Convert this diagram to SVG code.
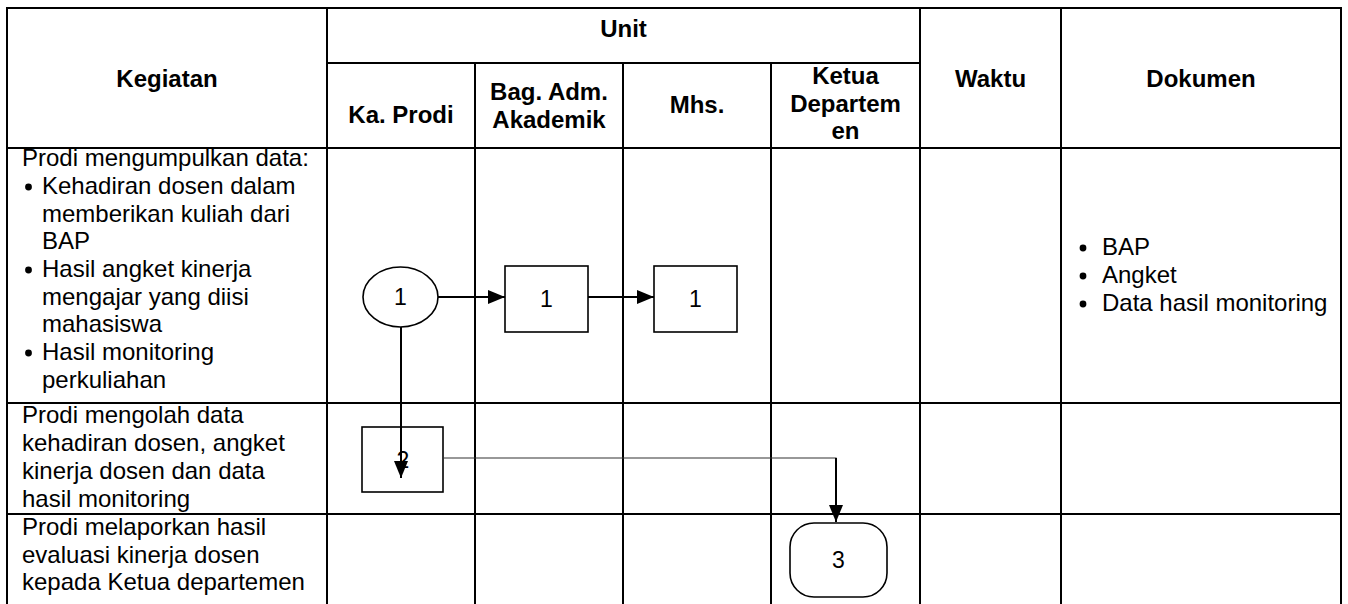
<svg xmlns="http://www.w3.org/2000/svg" width="1348" height="604" viewBox="0 0 1348 604">
<style>
text{font-family:"Liberation Sans",Arial,sans-serif;fill:#000}
.h{font-size:24px;font-weight:bold;text-anchor:middle}
.b{font-size:24px}
.n{font-size:23px;text-anchor:middle}
.grid line{stroke:#000;stroke-width:2}
.shape{fill:#fff;stroke:#000;stroke-width:1.6}
.c{fill:none;stroke:#000;stroke-width:2}
.thin{fill:none;stroke:#333;stroke-width:1.2}
.dot{fill:#000}
</style>
<defs>
<marker id="ah" viewBox="0 0 17 14" refX="17" refY="7" markerWidth="17" markerHeight="14" markerUnits="userSpaceOnUse" orient="auto">
<path d="M0,0 L17,7 L0,14 Z" fill="#000"/>
</marker>
</defs>
<rect width="1348" height="604" fill="#fff"/>
<g id="table" class="grid">
<line x1="6" y1="8" x2="1342" y2="8"/>
<line x1="327" y1="63" x2="920" y2="63"/>
<line x1="6" y1="148" x2="1342" y2="148"/>
<line x1="6" y1="403" x2="1342" y2="403"/>
<line x1="6" y1="514" x2="1342" y2="514"/>
<line x1="7" y1="8" x2="7" y2="604"/>
<line x1="327" y1="8" x2="327" y2="604"/>
<line x1="475" y1="63" x2="475" y2="604"/>
<line x1="623" y1="63" x2="623" y2="604"/>
<line x1="771" y1="63" x2="771" y2="604"/>
<line x1="920" y1="8" x2="920" y2="604"/>
<line x1="1061" y1="8" x2="1061" y2="604"/>
<line x1="1341" y1="8" x2="1341" y2="604"/>
</g>
<g id="headers">
<text class="h" x="167" y="87">Kegiatan</text>
<text class="h" x="623.5" y="37">Unit</text>
<text class="h" x="401" y="123">Ka. Prodi</text>
<text class="h" x="549" y="100">Bag. Adm.</text>
<text class="h" x="549" y="128">Akademik</text>
<text class="h" x="697" y="113">Mhs.</text>
<text class="h" x="845.5" y="84">Ketua</text>
<text class="h" x="845.5" y="111.5">Departem</text>
<text class="h" x="845.5" y="139">en</text>
<text class="h" x="990.5" y="87">Waktu</text>
<text class="h" x="1201" y="87">Dokumen</text>
</g>
<g id="row1-kegiatan">
<text class="b" x="22" y="166">Prodi mengumpulkan data:</text>
<circle class="dot" cx="28.5" cy="187" r="3.4"/>
<text class="b" x="42" y="194">Kehadiran dosen dalam</text>
<text class="b" x="42" y="221.5">memberikan kuliah dari</text>
<text class="b" x="42" y="249">BAP</text>
<circle class="dot" cx="28.5" cy="270" r="3.4"/>
<text class="b" x="42" y="277">Hasil angket kinerja</text>
<text class="b" x="42" y="304.5">mengajar yang diisi</text>
<text class="b" x="42" y="332">mahasiswa</text>
<circle class="dot" cx="28.5" cy="353" r="3.4"/>
<text class="b" x="42" y="360">Hasil monitoring</text>
<text class="b" x="42" y="388">perkuliahan</text>
</g>
<g id="row1-dokumen">
<circle class="dot" cx="1083" cy="248" r="3.4"/>
<text class="b" x="1102" y="255">BAP</text>
<circle class="dot" cx="1083" cy="276" r="3.4"/>
<text class="b" x="1102" y="283">Angket</text>
<circle class="dot" cx="1083" cy="304" r="3.4"/>
<text class="b" x="1102" y="311">Data hasil monitoring</text>
</g>
<g id="row2-kegiatan">
<text class="b" x="22" y="423">Prodi mengolah data</text>
<text class="b" x="22" y="451">kehadiran dosen, angket</text>
<text class="b" x="22" y="479">kinerja dosen dan data</text>
<text class="b" x="22" y="507">hasil monitoring</text>
</g>
<g id="row3-kegiatan">
<text class="b" x="22" y="535">Prodi melaporkan hasil</text>
<text class="b" x="22" y="563">evaluasi kinerja dosen</text>
<text class="b" x="22" y="590">kepada Ketua departemen</text>
</g>
<g id="node-start1">
<ellipse class="shape" cx="400.5" cy="297" rx="37.5" ry="30"/>
<text class="n" x="400.5" y="305">1</text>
</g>
<g id="node-bag1">
<rect class="shape" x="505" y="266" width="83" height="66"/>
<text class="n" x="546.5" y="307">1</text>
</g>
<g id="node-mhs1">
<rect class="shape" x="654" y="266" width="83" height="66"/>
<text class="n" x="695.5" y="307">1</text>
</g>
<g id="node-prodi2">
<rect class="shape" x="362" y="427" width="81" height="65"/>
<text class="n" x="403" y="468">2</text>
</g>
<g id="node-ketua3">
<rect class="shape" x="790" y="523" width="97" height="74" rx="24" ry="24"/>
<text class="n" x="838.5" y="568">3</text>
</g>
<g id="connectors">
<line class="c" x1="438" y1="297" x2="505" y2="297" marker-end="url(#ah)"/>
<line class="c" x1="588" y1="297" x2="654" y2="297" marker-end="url(#ah)"/>
<line class="c" x1="401" y1="327" x2="401" y2="478" marker-end="url(#ah)"/>
<polyline class="thin" points="443,458 836,458 836,470"/>
<line class="c" x1="836" y1="458" x2="836" y2="522" marker-end="url(#ah)"/>
</g>
</svg>
